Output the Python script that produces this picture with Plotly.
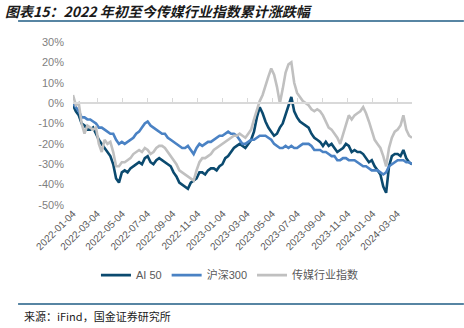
import pandas as pd
import plotly.graph_objects as go

# ---- data (weekly samples, % cumulative change) ----
dates = pd.date_range("2022-01-04", periods=119, freq="7D")

ai50 = [-1, -4, -6, -10, -11, -13, -13, -12, -15, -18,
        -20, -22, -24, -26, -30, -37, -39, -34, -33, -34,
        -32, -31, -30, -29, -30, -27, -26, -29, -30, -28,
        -27, -28, -29, -30, -31, -34, -36, -39, -40, -41,
        -42, -39, -38, -37, -34, -34, -35, -33, -32, -32,
        -33, -31, -30, -27, -26, -24, -22, -21, -20, -21,
        -22, -20, -18, -14, -7, -2, -5, -9, -12, -14,
        -16, -15, -12, -10, -6, -1, 3, -4, -7, -9,
        -10, -11, -12, -15, -17, -18, -19, -21, -19, -21,
        -20, -22, -24, -23, -22, -20, -21, -24, -23, -24,
        -24, -25, -27, -29, -28, -31, -33, -35, -41, -44,
        -31, -26, -25, -25, -26, -23, -27, -29, -30]

hs300 = [0, -2, -4, -7, -7, -8, -8, -9, -10, -12,
         -12, -13, -14, -15, -15, -18, -20, -19, -20, -19,
         -18, -17, -15, -14, -12, -10, -9, -11, -12, -13,
         -14, -15, -15, -17, -18, -19, -20, -21, -22, -22,
         -21, -23, -25, -22, -20, -21, -20, -19, -19, -18,
         -17, -16, -16, -15, -14, -15, -15, -16, -18, -20,
         -20, -19, -18, -18, -17, -16, -16, -16, -17, -18,
         -20, -21, -22, -22, -21, -22, -21, -22, -22, -21,
         -20, -20, -20, -21, -23, -23, -23, -24, -24, -25,
         -26, -26, -28, -28, -27, -27, -28, -28, -28, -29,
         -30, -31, -31, -32, -33, -33, -33, -34, -35, -34,
         -31, -30, -29, -28, -28, -28, -29, -29, -30]

media = [4, -1, 0, -10, -15, -11, -12, -13, -12, -20,
         -24, -18, -20, -19, -24, -31, -31, -29, -29, -28,
         -27, -25, -24, -23, -24, -22, -23, -25, -24, -22,
         -21, -21, -22, -24, -26, -28, -30, -33, -34, -35,
         -36, -37, -38, -33, -29, -27, -27, -26, -25, -23,
         -22, -21, -20, -19, -18, -17, -16, -16, -15, -16,
         -17, -15, -13, -8, -3, 1, 4, 9, 13, 17,
         14, 8, 0, 7, 15, 19, 20, 10, 5, 3,
         1, 0, -1, -3, -4, -3, -4, -6, -9, -12,
         -13, -15, -17, -20, -15, -11, -6, -8, -6, -5,
         -4, -2, -5, -9, -14, -18, -20, -22, -26, -31,
         -22, -17, -14, -13, -11, -6, -13, -16, -17]

series_names = ["AI 50", "沪深300", "传媒行业指数"]
series_colors = ["#0b4a6f", "#4a82c4", "#c0c0c0"]

tick_dates = ["2022-01-04", "2022-03-04", "2022-05-04", "2022-07-04", "2022-09-04",
              "2022-11-04", "2023-01-04", "2023-03-04", "2023-05-04", "2023-07-04",
              "2023-09-04", "2023-11-04", "2024-01-04", "2024-03-04"]
y_ticks = [-50, -40, -30, -20, -10, 0, 10, 20, 30]
y_ticktext = [f"{v}%" for v in y_ticks]

title_text = "图表15：2022 年初至今传媒行业指数累计涨跌幅"
source_text = "来源：iFind，国金证券研究所"

FONT = "Liberation Sans, Noto Sans CJK SC, sans-serif"

fig = go.Figure()
for name, vals, col in zip(series_names, [ai50, hs300, media], series_colors):
    fig.add_trace(go.Scatter(x=dates, y=vals, mode="lines", name=name,
                             line=dict(color=col, width=2.6)))

x_range = [dates[0], dates[-1]]

fig.update_layout(
    width=464, height=328,
    margin=dict(l=73, r=52, t=42, b=123),
    paper_bgcolor="white", plot_bgcolor="white",
    font=dict(family=FONT, color="#595959"),
    showlegend=True,
    legend=dict(orientation="h", x=0.463, xanchor="center", y=-0.43, yanchor="middle",
                font=dict(size=11, color="#595959"), bgcolor="rgba(0,0,0,0)",
                itemwidth=30, tracegroupgap=0),
    xaxis=dict(type="date", range=x_range, tickvals=tick_dates, ticktext=tick_dates,
               tickangle=-45, tickfont=dict(size=10, color="#595959"),
               showgrid=False, showline=False, ticks="", zeroline=False),
    xaxis2=dict(type="date", range=x_range, overlaying="x", anchor="free", position=0.625,
                side="bottom", tickvals=tick_dates, showticklabels=False,
                showline=True, linecolor="#d9d9d9", linewidth=1.5,
                ticks="inside", ticklen=4, tickcolor="#d9d9d9", tickwidth=1,
                showgrid=False, zeroline=False),
    yaxis=dict(range=[-50, 30], tickvals=y_ticks, ticktext=y_ticktext,
               tickfont=dict(size=11, color="#7f7f7f"), showgrid=False,
               zeroline=False, showline=False, ticks="", ticklabelstandoff=8),
)

# invisible helper trace so the zero-line axis is drawn
fig.add_trace(go.Scatter(x=x_range, y=[None, None], xaxis="x2", showlegend=False,
                         hoverinfo="skip", mode="lines"))

# title, rules and source
fig.add_annotation(text=f"<b><i>{title_text}</i></b>", xref="paper", yref="paper",
                   x=-0.207, y=1.193, xanchor="left", yanchor="middle", showarrow=False,
                   font=dict(size=14, color="#1a1a1a", family="Noto Sans CJK SC, sans-serif"))
fig.add_shape(type="line", xref="paper", yref="paper", x0=-0.162, x1=1.153, y0=1.129, y1=1.129,
              line=dict(color="#1f5c85", width=1.5))
fig.add_shape(type="line", xref="paper", yref="paper", x0=-0.162, x1=1.153, y0=-0.607, y1=-0.607,
              line=dict(color="#1f5c85", width=1.5))
fig.add_annotation(text=source_text, xref="paper", yref="paper",
                   x=-0.151, y=-0.681, xanchor="left", yanchor="middle", showarrow=False,
                   font=dict(size=11, color="#1a1a1a", family="Noto Sans CJK SC, sans-serif"))

fig.write_html("out.html")
